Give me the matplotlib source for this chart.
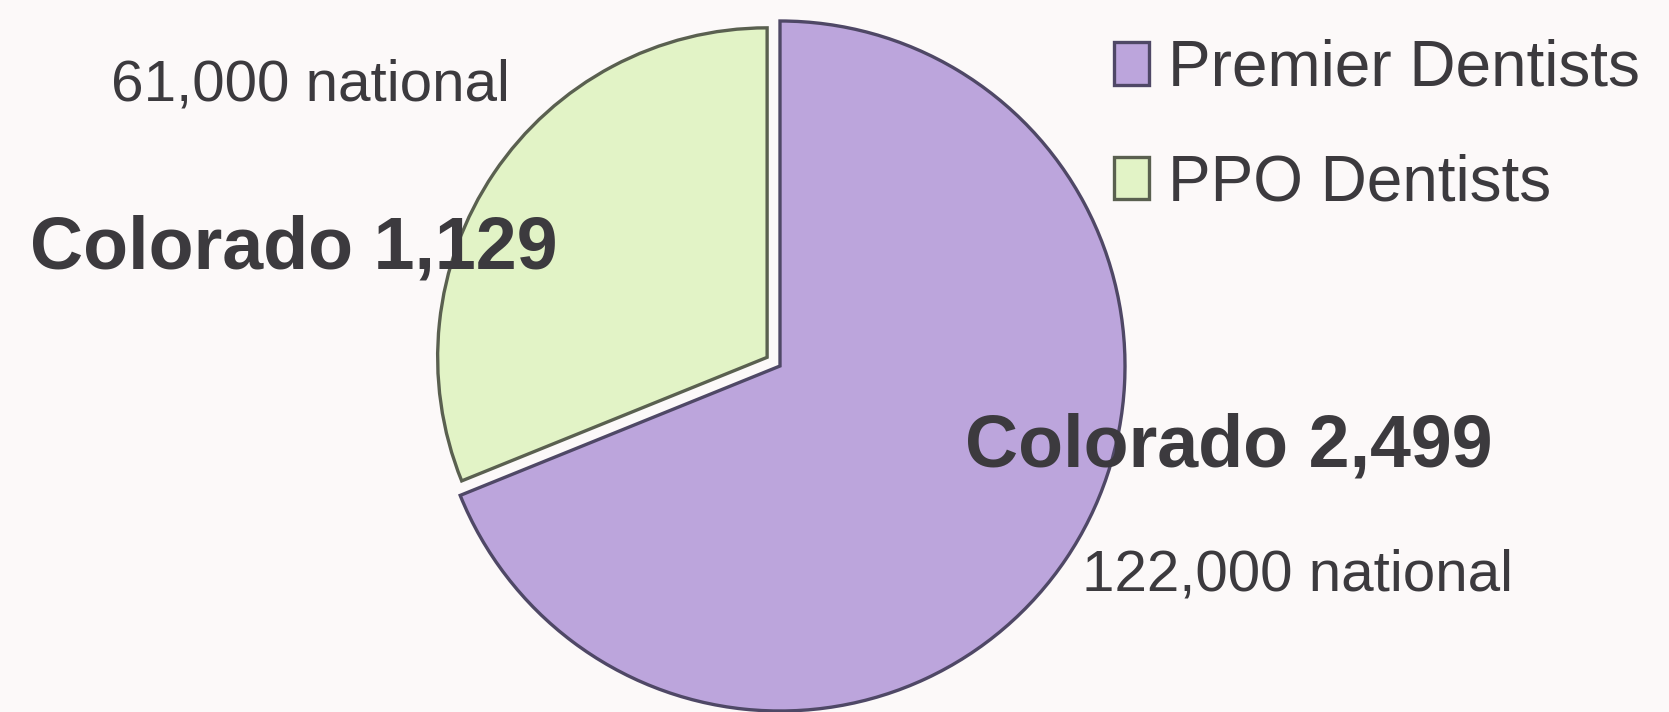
import matplotlib
matplotlib.use("Agg")
import matplotlib.pyplot as plt

plt.rcParams["font.family"] = ["Liberation Sans", "DejaVu Sans"]

# data
LABELS = ["Premier Dentists", "PPO Dentists"]
COLORADO = [2499, 1129]
NATIONAL = ["122,000", "61,000"]
COLORS = ["#bca5dc", "#e2f3c6"]
EDGES = ["#4f4866", "#5a6050"]
TEXT_COLOR = "#3c3a3e"
BG = "#fcf9f9"

W, H = 1669, 712
CX, CY, R = 780, 366, 345  # pie centre / radius in pixels


def px(x, y):
    # pixel position (from top-left) -> data units of the pie axes
    return (x - CX) / R, (CY - y) / R


fig = plt.figure(figsize=(W / 100, H / 100), dpi=100, facecolor=BG)
ax = fig.add_axes([0, 0, 1, 1])
ax.set_facecolor(BG)

premier_deg = COLORADO[0] / sum(COLORADO) * 360
wedges, _ = ax.pie(
    COLORADO,
    colors=COLORS,
    startangle=90 - premier_deg,
    explode=[0, 0.045],
    radius=1,
    wedgeprops=dict(linewidth=2.4),
)
for w, ec in zip(wedges, EDGES):
    w.set_edgecolor(ec)
# the pulled-out slice is drawn a bit smaller in the original
wedges[1].set_radius(0.955)

ax.set_xlim((0 - CX) / R, (W - CX) / R)
ax.set_ylim((CY - H) / R, CY / R)
ax.set_aspect("equal")
ax.axis("off")

# slice annotations
ax.text(*px(310, 86), f"{NATIONAL[1]} national", fontsize=42,
        color=TEXT_COLOR, ha="center", va="center")
ax.text(*px(294, 249), f"Colorado {COLORADO[1]:,}", fontsize=53,
        fontweight="bold", color=TEXT_COLOR, ha="center", va="center")
ax.text(*px(1229, 447), f"Colorado {COLORADO[0]:,}", fontsize=53,
        fontweight="bold", color=TEXT_COLOR, ha="center", va="center")
ax.text(*px(1297, 576), f"{NATIONAL[0]} national", fontsize=42,
        color=TEXT_COLOR, ha="center", va="center")

leg = ax.legend(wedges, LABELS, loc="upper left",
                bbox_to_anchor=(1114 / W, 1 - 39 / H),
                bbox_transform=fig.transFigure,
                frameon=False, fontsize=46, handlelength=0.55,
                handleheight=0.65, handletextpad=0.3, labelspacing=0.85,
                borderpad=0, borderaxespad=0)
for t in leg.get_texts():
    t.set_color(TEXT_COLOR)

fig.savefig("out.png", dpi=100, facecolor=BG)
